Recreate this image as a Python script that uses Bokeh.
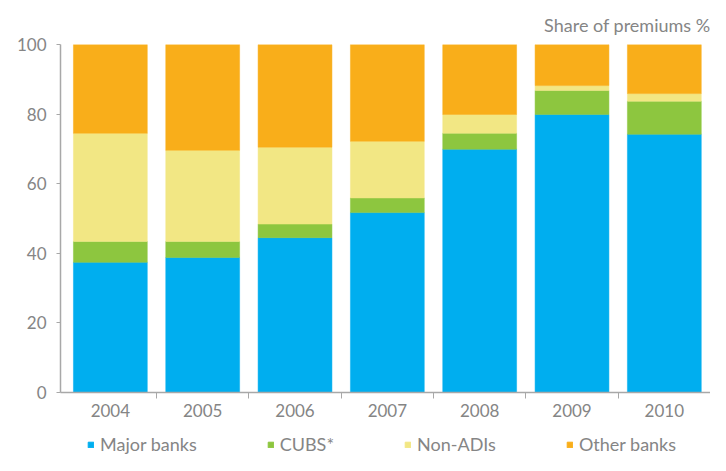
from bokeh.plotting import figure
from bokeh.layouts import column
from bokeh.models import Range1d, FixedTicker, Legend, LegendItem, ColumnDataSource
from bokeh.embed import file_html
from bokeh.resources import INLINE

years = ["2004", "2005", "2006", "2007", "2008", "2009", "2010"]
major = [37.4, 38.8, 44.5, 51.7, 69.9, 79.9, 74.2]
cubs = [6.0, 4.6, 3.9, 4.2, 4.6, 6.9, 9.5]
nonadi = [31.1, 26.2, 22.1, 16.3, 5.4, 1.4, 2.2]
other = [25.5, 30.4, 29.5, 27.8, 20.1, 11.8, 14.1]
series_names = ["Major banks", "CUBS*", "Non-ADIs", "Other banks"]
y_ticks = [0, 20, 40, 60, 80, 100]

colors = ["#00AEEF", "#8DC63F", "#F2E784", "#F9AE1A"]
text_gray = "#858585"
axis_gray = "#a8a8a8"
FONT = "Lato"

xs = [i + 0.5 for i in range(len(years))]
src = ColumnDataSource(dict(x=xs, major=major, cubs=cubs, nonadi=nonadi, other=other))

p = figure(width=710, height=424, output_backend="svg", toolbar_location=None,
           x_range=Range1d(-0.04, 7), y_range=Range1d(0, 100),
           min_border_left=60, min_border_right=0, min_border_top=44, min_border_bottom=32)
p.xgrid.visible = False
p.ygrid.visible = False
p.outline_line_color = None

rs = p.vbar_stack(["major", "cubs", "nonadi", "other"], x="x", width=0.8,
                  fill_color=colors, line_color=colors, line_width=0.5, source=src)

# x axis: labels at category centres, ticks at category boundaries
p.xaxis.ticker = FixedTicker(ticks=xs, minor_ticks=[i for i in range(1, len(years))])
p.xaxis.major_label_overrides = {x: y for x, y in zip(xs, years)}
p.xaxis.major_tick_line_color = None
p.xaxis.minor_tick_line_color = axis_gray
p.xaxis.minor_tick_in = 0
p.xaxis.minor_tick_out = 6
p.xaxis.axis_line_color = axis_gray
p.xaxis.axis_line_width = 1.5
p.xaxis.major_label_standoff = 5
p.xaxis.major_label_text_font = FONT
p.xaxis.major_label_text_font_size = "17px"
p.xaxis.major_label_text_color = text_gray

p.yaxis.ticker = FixedTicker(ticks=y_ticks, minor_ticks=[])
p.yaxis.major_tick_in = 0
p.yaxis.major_tick_out = 4
p.yaxis.major_tick_line_color = axis_gray
p.yaxis.minor_tick_line_color = None
p.yaxis.axis_line_color = axis_gray
p.yaxis.axis_line_width = 1.5
p.yaxis.major_label_standoff = 10
p.yaxis.major_label_text_font = FONT
p.yaxis.major_label_text_font_size = "17px"
p.yaxis.major_label_text_color = text_gray

p.title.text = "Share of premiums %"
p.title.align = "right"
p.title.text_font = FONT
p.title.text_font_size = "18px"
p.title.text_font_style = "normal"
p.title.text_color = text_gray
p.title.standoff = 17

# legend strip underneath: swatch renderers share the bar colours (their bar lies off-range)
lg = figure(width=710, height=31, output_backend="svg", toolbar_location=None,
            x_range=Range1d(0, 1), y_range=Range1d(0, 1),
            min_border_left=60, min_border_right=0, min_border_top=0, min_border_bottom=0)
lg.axis.visible = False
lg.grid.visible = False
lg.outline_line_color = None
dummy = ColumnDataSource(dict(x=[-5], top=[-5]))
swatches = [lg.vbar(x="x", top="top", width=0.1, fill_color=c, line_color=c, source=dummy)
            for c in colors]
legend = Legend(items=[LegendItem(label=n, renderers=[r]) for n, r in zip(series_names, swatches)],
                orientation="horizontal", location=(27, 0),
                border_line_color=None, background_fill_alpha=0,
                glyph_width=7, glyph_height=7, label_standoff=6, spacing=70,
                label_text_font=FONT, label_text_font_size="18px",
                label_text_color=text_gray, padding=0, margin=0)
lg.add_layout(legend, "center")

open("out.html", "w").write(file_html(column(p, lg, spacing=0), INLINE))
